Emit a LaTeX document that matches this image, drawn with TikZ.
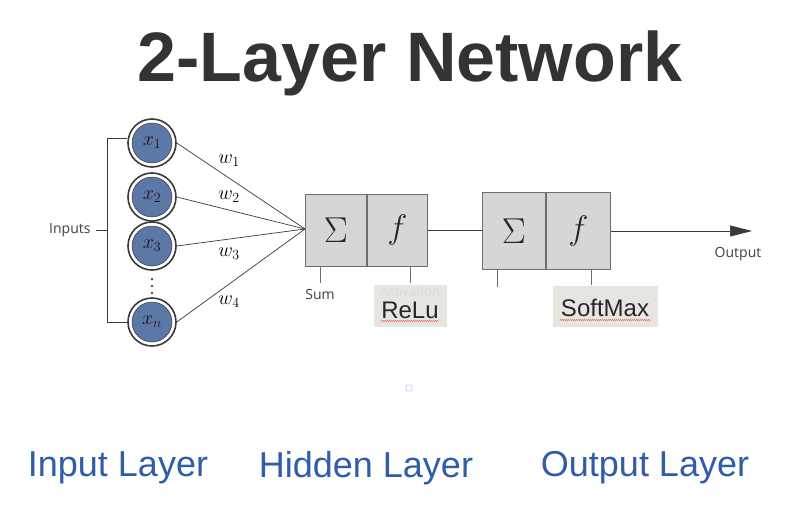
\RequirePackage{fix-cm}
\documentclass[tikz,border=0pt]{standalone}
\usepackage{fontspec}
\setmainfont{Liberation Sans}
\newfontfamily\lblfont{Open Sans}
\usetikzlibrary{arrows.meta,decorations.pathmorphing}
\definecolor{nodeblue}{HTML}{5B78A6}
\definecolor{ringgray}{HTML}{3A3A3A}
\definecolor{boxfill}{HTML}{D6D6D6}
\definecolor{boxline}{HTML}{6E6E6E}
\definecolor{tagfill}{HTML}{E6E6E0}
\definecolor{layerblue}{HTML}{2F5DA8}
\definecolor{titlegray}{HTML}{333333}
\tikzset{
  inp/.style={circle, draw=ringgray, line width=1.6pt, fill=white, minimum size=48pt, inner sep=0pt},
  inpcore/.style={circle, fill=nodeblue, draw=ringgray, line width=0.5pt, minimum size=40pt, inner sep=0pt, font=\fontsize{20}{20}\selectfont, text=black!90},
  wire/.style={draw=ringgray, line width=0.7pt},
  cell/.style={draw=boxline, line width=1pt, fill=boxfill, minimum height=72pt, inner sep=0pt},
  tick/.style={draw=boxline, line width=1pt},
  tag/.style={fill=tagfill, inner sep=0pt},
  tagtext/.style={font=\fontsize{24}{24}\selectfont, text=black!85},
  small/.style={font=\lblfont\fontsize{14}{14}\selectfont, text=black!75},
  wlab/.style={font=\fontsize{20}{20}\selectfont},
  sigmalab/.style={font=\fontsize{36}{36}\selectfont, text=black!85},
  flab/.style={font=\fontsize{34}{34}\selectfont, text=black!85},
  layer/.style={font=\fontsize{36}{36}\selectfont, text=layerblue},
  dotmark/.style={circle, fill=ringgray, inner sep=0pt, minimum size=2.5pt},
}
\begin{document}
\begin{tikzpicture}[x=1pt,y=-1pt]
\useasboundingbox[fill=white] (0,0) rectangle (810,524);
% title
\node[font=\bfseries\fontsize{70}{70}\selectfont, text=titlegray] (title) at (410,63) {2-Layer Network};

% bracket
\coordinate (bt) at (127,138);
\coordinate (bb) at (127,322);
\coordinate (bm) at (107,230);
\draw[wire] (bt) -- (107,138) -- (107,322) -- (bb);
\draw[wire] (bm) -- (96,230);
\node[small, anchor=east] (inputs) at (94,230) {Inputs};

% input nodes
\foreach \n/\y/\s in {1/143/1, 2/197/2, 3/246/3, 4/322/n} {
  \node[inp] (x\n) at (152,\y) {};
  \node[inpcore] (c\n) at (152,\y) {$x_{\s}$};
}
\node[dotmark] (d1) at (152,279) {};
\node[dotmark] (d2) at (152,286) {};
\node[dotmark] (d3) at (152,293) {};

% summing point
\coordinate (sp) at (305,229);
\foreach \n in {1,2,3,4} { \draw[wire] (x\n.east) -- (sp); }
\node[wlab] (w1) at (229,161) {$w_1$};
\node[wlab] (w2) at (229,197) {$w_2$};
\node[wlab] (w3) at (229,254) {$w_3$};
\node[wlab] (w4) at (229,302) {$w_4$};

% hidden box
\node[cell, minimum width=61pt, anchor=west] (s1) at (305,230) {};
\node[cell, minimum width=60pt, anchor=west] (f1) at (s1.east) {};
\node[sigmalab] (sig1) at (s1.center) {$\Sigma$};
\node[flab] (fl1) at (f1.center) {$f$};
\coordinate (t1a) at (320,283);
\coordinate (t1b) at (410,283);
\draw[tick] (s1.south -| t1a) -- (t1a);
\draw[tick] (f1.south -| t1b) -- (t1b);
\node[small, anchor=north] (sum) at (320,286) {Sum};
\node[tag, minimum width=73pt, minimum height=42pt] (relu) at (410,306) {};
\node[font=\lblfont\fontsize{13}{13}\selectfont, text=black!15, inner sep=0pt] (act) at (410,292) {Activation};
\node[tagtext, inner sep=0pt] (relut) at (410,310) {ReLu};
\draw[red!80, line width=0.4pt, decorate, decoration={snake, amplitude=0.5pt, segment length=2pt}] (381,321) -- (439,321);

% output box
\node[cell, minimum width=63pt, minimum height=77pt, anchor=west] (s2) at (482,231) {};
\node[cell, minimum width=64pt, minimum height=77pt, anchor=west] (f2) at (s2.east) {};
\node[sigmalab] (sig2) at (s2.center) {$\Sigma$};
\node[flab] (fl2) at (f2.center) {$f$};
\draw[wire] (f1.east) -- (f1.east -| s2.west);
\coordinate (t2a) at (497,287);
\coordinate (t2b) at (591,285);
\draw[tick] (s2.south -| t2a) -- (t2a);
\draw[tick] (f2.south -| t2b) -- (t2b);
\node[tag, minimum width=105pt, minimum height=41pt] (soft) at (605,306) {};
\node[tagtext] (softt) at (605,308) {SoftMax};
\draw[red!80, line width=0.4pt, decorate, decoration={snake, amplitude=0.5pt, segment length=2pt}] (560,320) -- (651,320);

% output arrow
\coordinate (out) at (752,231);
\draw[wire, -{Triangle[length=22pt,width=11pt]}] (f2.east) -- (out);
\node[small] (outputlab) at (738,254) {Output};

% small artifact
\node[draw=blue!25, line width=0.6pt, rounded corners=1pt, minimum size=6pt, inner sep=0pt] (dot) at (409,388) {};

% layer labels
\node[layer] (l1) at (118,468) {Input Layer};
\node[layer] (l2) at (366,468) {Hidden Layer};
\node[layer] (l3) at (645,468) {Output Layer};
\end{tikzpicture}
\end{document}
